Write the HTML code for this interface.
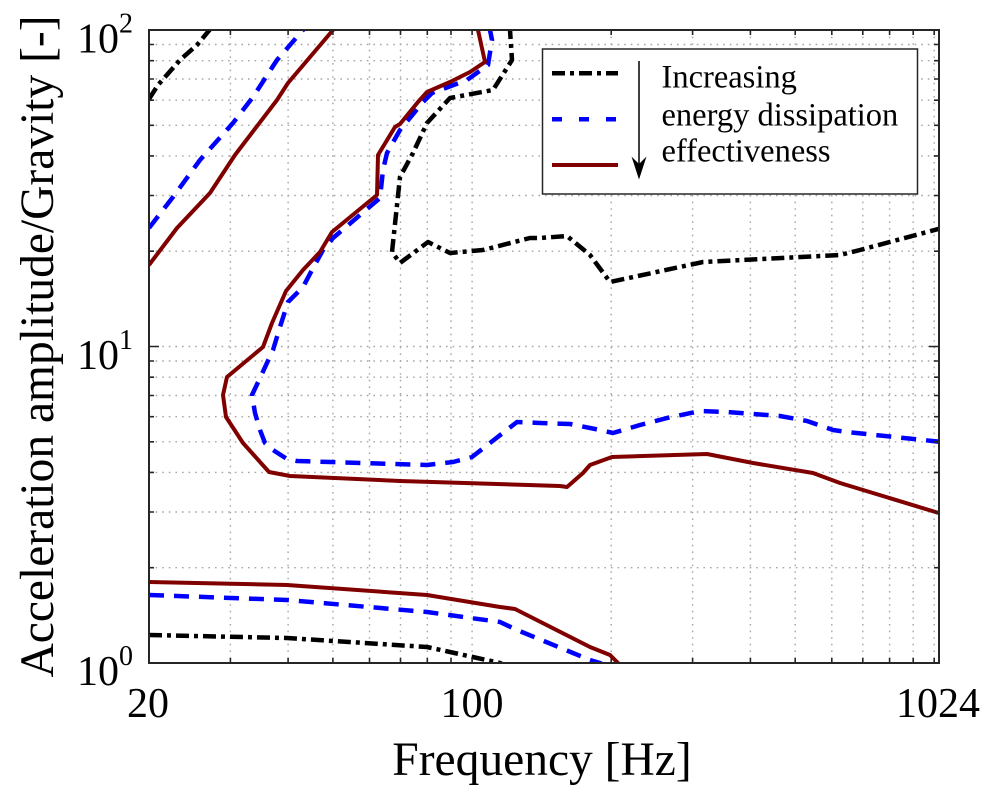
<!DOCTYPE html>
<html>
<head>
<meta charset="utf-8">
<style>
  html,body{margin:0;padding:0;background:#fff;}
  svg{display:block;}
  text{font-family:"Liberation Serif","Times New Roman",serif;fill:#000;}
</style>
</head>
<body>
<svg width="1000" height="795" viewBox="0 0 1000 795" xmlns="http://www.w3.org/2000/svg">
  <defs>
    <clipPath id="plot"><rect x="149" y="30" width="790" height="633"/></clipPath>
  </defs>
  <rect x="0" y="0" width="1000" height="795" fill="#fff"/>

  <!-- grid -->
  <g stroke="#a6a6a6" stroke-width="1.4" stroke-dasharray="1.6 5" fill="none">
    <line x1="230.4" y1="30" x2="230.4" y2="663"/>
    <line x1="288.1" y1="30" x2="288.1" y2="663"/>
    <line x1="332.9" y1="30" x2="332.9" y2="663"/>
    <line x1="369.5" y1="30" x2="369.5" y2="663"/>
    <line x1="400.5" y1="30" x2="400.5" y2="663"/>
    <line x1="427.3" y1="30" x2="427.3" y2="663"/>
    <line x1="451.0" y1="30" x2="451.0" y2="663"/>
    <line x1="472.1" y1="30" x2="472.1" y2="663"/>
    <line x1="611.2" y1="30" x2="611.2" y2="663"/>
    <line x1="692.6" y1="30" x2="692.6" y2="663"/>
    <line x1="750.4" y1="30" x2="750.4" y2="663"/>
    <line x1="795.2" y1="30" x2="795.2" y2="663"/>
    <line x1="831.8" y1="30" x2="831.8" y2="663"/>
    <line x1="862.8" y1="30" x2="862.8" y2="663"/>
    <line x1="889.6" y1="30" x2="889.6" y2="663"/>
    <line x1="913.2" y1="30" x2="913.2" y2="663"/>
    <line x1="934.2" y1="30" x2="934.2" y2="663"/>
    <line x1="149" y1="567.7" x2="939" y2="567.7"/>
    <line x1="149" y1="512.0" x2="939" y2="512.0"/>
    <line x1="149" y1="472.4" x2="939" y2="472.4"/>
    <line x1="149" y1="441.8" x2="939" y2="441.8"/>
    <line x1="149" y1="416.7" x2="939" y2="416.7"/>
    <line x1="149" y1="395.5" x2="939" y2="395.5"/>
    <line x1="149" y1="377.2" x2="939" y2="377.2"/>
    <line x1="149" y1="361.0" x2="939" y2="361.0"/>
    <line x1="149" y1="346.5" x2="939" y2="346.5"/>
    <line x1="149" y1="251.2" x2="939" y2="251.2"/>
    <line x1="149" y1="195.5" x2="939" y2="195.5"/>
    <line x1="149" y1="155.9" x2="939" y2="155.9"/>
    <line x1="149" y1="125.3" x2="939" y2="125.3"/>
    <line x1="149" y1="100.2" x2="939" y2="100.2"/>
    <line x1="149" y1="79.0" x2="939" y2="79.0"/>
    <line x1="149" y1="60.7" x2="939" y2="60.7"/>
    <line x1="149" y1="44.5" x2="939" y2="44.5"/>
  </g>

  <!-- data -->
  <g clip-path="url(#plot)" fill="none" stroke-linejoin="round">
    <g stroke="#000" stroke-width="4.5" stroke-dasharray="13 5 4 5">
      <polyline points="149,99 158,85 180,60 197,45 212,27"/>
      <polyline points="510,26 510,30 512,60 493,90 450,98 427,123 413,153 400,177 392,252 400,263 428,242 450,253 483,250 530,238 540,238 567,236 590,255 610,282 703,262 840,255 860,250 942,228"/>
      <polyline points="149,635 287,638 427,647 450,652 500,663 506,666"/>
    </g>
    <g stroke="#0000ff" stroke-width="4.5" stroke-dasharray="15 10">
      <polyline points="149,228 173,197 200,160 233,123 253,97 277,60 303,30 306,26"/>
      <polyline points="490,26 490,30 492,40 488,65 467,80 432,93 423,102 400,130 387,153 383,170 380,198 333,238 323,250 312,270 303,287 288,302 280,327 273,350 260,378 252,395 255,413 260,430 265,443 273,450 287,459 297,461 427,465 453,462 472,457 490,443 517,422 540,423 570,424 600,430 613,433 640,425 667,418 700,411 727,412 780,416 807,421 833,430 847,432 942,442"/>
      <polyline points="149,595 287,600 427,612 500,622 517,630 590,660 600,663 606,666"/>
    </g>
    <g stroke="#800000" stroke-width="4">
      <polyline points="149,265 177,228 210,193 235,155 277,100 288,83 333,30 336,26"/>
      <polyline points="478,26 478,30 485,62 470,72 450,82 427,92 418,102 400,124 395,127 378,155 377,195 332,232 320,252 303,270 286,291 272,323 263,347 227,377 223,395 226,417 243,443 269,472 290,476 400,481 560,486 567,487 583,473 590,465 612,457 707,454 753,463 813,473 840,483 942,514"/>
      <polyline points="149,582 287,585 427,595 500,607 515,609 590,647 610,655 618,663 621,667"/>
    </g>
  </g>

  <!-- ticks -->
  <g stroke="#262626" stroke-width="1.6">
    <path d="M230.4,663v-5M288.1,663v-5M332.9,663v-5M369.5,663v-5M400.5,663v-5M427.3,663v-5M451,663v-5M472.1,663v-5M611.2,663v-5M692.6,663v-5M750.4,663v-5M795.2,663v-5M831.8,663v-5M862.8,663v-5M889.6,663v-5M913.2,663v-5M934.2,663v-5"/>
    <path d="M230.4,30v5M288.1,30v5M332.9,30v5M369.5,30v5M400.5,30v5M427.3,30v5M451,30v5M472.1,30v5M611.2,30v5M692.6,30v5M750.4,30v5M795.2,30v5M831.8,30v5M862.8,30v5M889.6,30v5M913.2,30v5M934.2,30v5"/>
    <path d="M149,567.7h5M149,512h5M149,472.4h5M149,441.8h5M149,416.7h5M149,395.5h5M149,377.2h5M149,361h5M149,346.5h10M149,251.2h5M149,195.5h5M149,155.9h5M149,125.3h5M149,100.2h5M149,79h5M149,60.7h5M149,44.5h5"/>
    <path d="M939,567.7h-5M939,512h-5M939,472.4h-5M939,441.8h-5M939,416.7h-5M939,395.5h-5M939,377.2h-5M939,361h-5M939,346.5h-10M939,251.2h-5M939,195.5h-5M939,155.9h-5M939,125.3h-5M939,100.2h-5M939,79h-5M939,60.7h-5M939,44.5h-5"/>
  </g>

  <rect x="149" y="30" width="790" height="633" fill="none" stroke="#262626" stroke-width="2"/>

  <!-- legend -->
  <rect x="542.5" y="49" width="375" height="145" fill="#fff" stroke="#262626" stroke-width="1.5"/>
  <line x1="552" y1="73.3" x2="618" y2="73.3" stroke="#000" stroke-width="4.5" stroke-dasharray="13 5 4 5"/>
  <line x1="552" y1="119.3" x2="618" y2="119.3" stroke="#0000ff" stroke-width="4.5" stroke-dasharray="10 17"/>
  <line x1="552" y1="165" x2="618" y2="165" stroke="#800000" stroke-width="4"/>
  <line x1="639" y1="61" x2="639" y2="170" stroke="#000" stroke-width="1.5"/>
  <polygon points="631.5,156.5 639,164 646.5,156.5 639,179.5" fill="#000"/>
  <text x="661.5" y="87.3" font-size="32.5">Increasing</text>
  <text x="661.5" y="125.7" font-size="32.5">energy dissipation</text>
  <text x="661.5" y="161.7" font-size="32.5">effectiveness</text>

  <!-- y tick labels -->
  <text x="133" y="52.5" font-size="42" text-anchor="end">10<tspan dy="-20" font-size="28">2</tspan></text>
  <text x="133" y="369" font-size="42" text-anchor="end">10<tspan dy="-20" font-size="28">1</tspan></text>
  <text x="133" y="685" font-size="42" text-anchor="end">10<tspan dy="-20" font-size="28">0</tspan></text>

  <!-- x tick labels -->
  <text x="148" y="717" font-size="42" text-anchor="middle">20</text>
  <text x="472" y="717" font-size="42" text-anchor="middle">100</text>
  <text x="938" y="717" font-size="42" text-anchor="middle">1024</text>

  <!-- axis labels -->
  <text x="542" y="775" font-size="47.5" text-anchor="middle">Frequency [Hz]</text>
  <text transform="translate(53,346.5) rotate(-90)" font-size="47.5" text-anchor="middle">Acceleration amplitude/Gravity [-]</text>
</svg>
</body>
</html>
